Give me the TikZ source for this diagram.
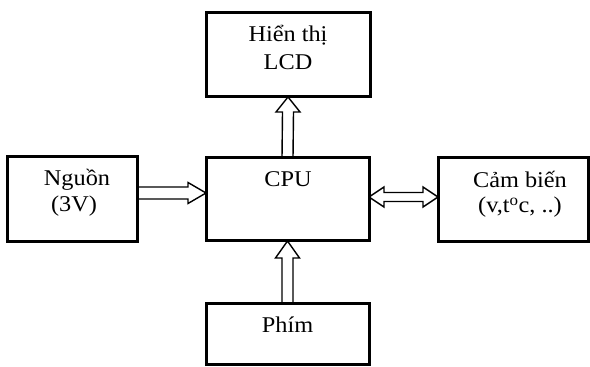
\documentclass[tikz,border=0pt]{standalone}
\usepackage{fontspec}
\setmainfont{Liberation Serif}[FakeStretch=1.08]
\pgfdeclarelayer{bg}
\pgfsetlayers{bg,main}
\begin{document}
\begin{tikzpicture}[x=1pt,y=1pt,
  box/.style={draw, line width=3pt, inner sep=0pt, outer sep=0pt, fill=white},
  txt/.style={anchor=base, inner sep=0pt, font=\fontsize{22.5}{27}\selectfont},
  hollow/.style={draw, fill=white, line width=1.4pt, line join=miter}]
\useasboundingbox (0,0) rectangle (590,367);
\node[box, minimum width=164pt, minimum height=84pt] (lcd) at (288,312) {};
\node[box, minimum width=163pt, minimum height=83pt] (cpu) at (287.5,167.5) {};
\node[box, minimum width=130pt, minimum height=85pt] (src) at (72,167.5) {};
\node[box, minimum width=150pt, minimum height=84pt] (sens) at (513,167) {};
\node[box, minimum width=163pt, minimum height=61pt] (phim) at (287.5,32.5) {};

\node[txt] (lcd1) at (288,325.3) {Hiển thị};
\node[txt] (lcd2) at (288,297) {LCD};
\node[txt] (cput) at (288,180.3) {CPU};
\node[txt] (src1) at (77,181.3) {Nguồn};
\node[txt] (src2) at (74,155) {(3V)};
\node[txt] (sens1) at (520,179.3) {Cảm biến};
\node[txt] (sens2) at (520,154) {(v,t\textsuperscript{o}c, ..)};
\node[txt] (phimt) at (287.5,34.7) {Phím};

\begin{pgfonlayer}{bg}
% CPU -> LCD
\draw[hollow] ([xshift=-5.5pt]cpu.north) -- ([xshift=-5.5pt,yshift=-15pt]lcd.south)
  -- ([xshift=-12pt,yshift=-15pt]lcd.south) -- (lcd.south)
  -- ([xshift=12pt,yshift=-15pt]lcd.south) -- ([xshift=5.5pt,yshift=-15pt]lcd.south)
  -- ([xshift=5.5pt]cpu.north);
% Phim -> CPU
\draw[hollow] ([xshift=-5.5pt]phim.north) -- ([xshift=-5.5pt,yshift=-17pt]cpu.south)
  -- ([xshift=-12pt,yshift=-17pt]cpu.south) -- (cpu.south)
  -- ([xshift=12pt,yshift=-17pt]cpu.south) -- ([xshift=5.5pt,yshift=-17pt]cpu.south)
  -- ([xshift=5.5pt]phim.north);
% Nguon -> CPU
\draw[hollow] ([yshift=12.5pt]src.east) -- ([xshift=-18pt,yshift=12.5pt]cpu.west)
  -- ([xshift=-18pt,yshift=17pt]cpu.west) -- ([yshift=6.5pt]cpu.west)
  -- ([xshift=-18pt,yshift=-4pt]cpu.west) -- ([xshift=-18pt,yshift=0.5pt]cpu.west)
  -- ([yshift=0.5pt]src.east);
% CPU <-> Cam bien
\draw[hollow] ([yshift=2.5pt]cpu.east) -- ([xshift=15pt,yshift=12.5pt]cpu.east)
  -- ([xshift=15pt,yshift=7pt]cpu.east) -- ([xshift=-15pt,yshift=7.5pt]sens.west)
  -- ([xshift=-15pt,yshift=13pt]sens.west) -- ([yshift=3pt]sens.west)
  -- ([xshift=-15pt,yshift=-7pt]sens.west) -- ([xshift=-15pt,yshift=-1.5pt]sens.west)
  -- ([xshift=15pt,yshift=-2pt]cpu.east) -- ([xshift=15pt,yshift=-7.5pt]cpu.east)
  -- cycle;
\end{pgfonlayer}
\end{tikzpicture}
\end{document}
